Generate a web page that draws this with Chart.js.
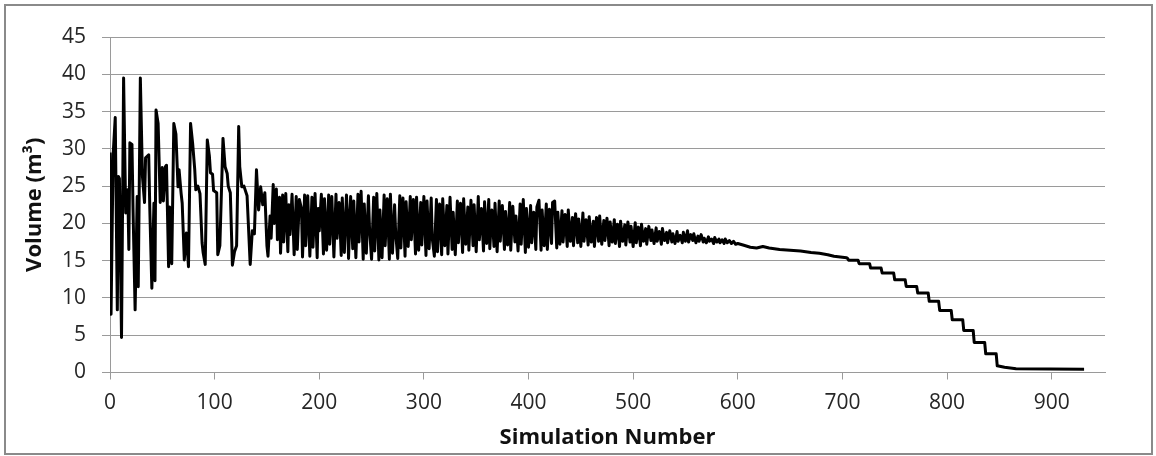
<!DOCTYPE html>
<html>
<head>
<meta charset="utf-8">
<script src="https://cdn.jsdelivr.net/npm/chart.js@4/dist/chart.umd.min.js"></script>
<style>
  html, body { margin: 0; padding: 0; background: #fff; }
  canvas { display: block; }
</style>
</head>
<body>
<canvas id="chart" width="1156" height="456"></canvas>
<script>
// Volume per simulation, as [simulation number, volume in m³] pairs.
const startup = [
  [0,29.5],[1,7.8],[3,29.2],[5,34.2],[7,8.4],[8,26.3],[9,26.0],[11,4.7],[13,39.5],[15,21.4],
  [17,24.5],[18,16.5],[19,30.8],[21,30.6],[22,22.0],[24,8.4],[26,23.6],[27,11.5],[29,39.5],[31,26.3],
  [33,22.8],[34,28.8],[37,29.2],[38,22.2],[40,11.3],[42,22.7],[43,12.3],[44,35.2],[46,33.4],[48,22.8],
  [50,27.5],[51,23.0],[53,27.6],[54,27.8],[56,14.2],[57,22.2],[59,14.6],[61,33.4],[63,32.0],[65,24.9],
  [66,27.2],[68,24.0],[69,22.7],[71,15.1],[73,18.7],[75,14.2],[77,33.4],[79,30.7],[81,27.2],[82,24.5],
  [84,25.0],[86,24.0],[88,17.4],[89,16.1],[91,14.5],[93,31.2],[95,29.0],[96,26.8],[98,26.6],[99,24.4],
  [102,24.1],[103,15.8],[105,17.0],[108,31.4],[110,27.6],[112,26.7],[113,25.0],[115,24.1],[117,14.4],[119,16.2],
  [121,17.0],[123,33.0],[124,27.6],[126,24.9],[128,25.0],[131,23.7],[134,14.5],[136,19.0],[138,18.6],[140,27.2],
  [142,21.8],[144,24.9],[146,22.5],[148,24.1],[150,17.0],[151,15.6],[153,21.0],[154,18.0],[156,25.2],[157,20.0],
  [159,24.6],[160,17.8]
];

const wideBand = [
  [162,23.5],[163,16.0],[165,23.8],[166,17.5],[168,24.0],[170,16.2],[171,22.5],[172,18.5],[174,23.9],[176,15.8],
  [178,23.6],[179,16.5],[181,23.2],[183,22.0],[184,15.5],[186,23.8],[187,17.0],[189,23.7],[191,15.6],[193,23.5],
  [194,16.8],[196,24.0],[198,15.4],[199,22.0],[200,19.0],[202,23.9],[204,15.9],[205,23.3],[207,16.4],[209,23.8],
  [210,17.2],[212,23.6],[214,15.5],[216,23.9],[217,18.0],[219,22.8],[221,15.7],[222,23.4],[224,16.1],[226,23.8],
  [227,21.0],[228,15.3],[230,23.6],[232,16.6],[233,23.0],[235,15.4],[237,23.9],[238,17.5],[240,24.3],[242,15.2],
  [243,22.6],[245,16.0],[247,23.7],[248,19.5],[250,15.2],[252,23.5],[253,16.3],[255,24.0],[257,15.1],[258,21.8],
  [260,15.4],[262,23.8],[263,17.0],[265,23.3],[267,15.2],[268,23.9],[270,16.0],[272,22.5],[273,18.8],[275,15.3],
  [277,23.7],[278,16.7],[280,23.4],[282,15.6],[283,22.9],[285,16.9],[287,23.6],[288,17.8],[290,23.2],[292,15.9],
  [293,23.5],[295,16.4],[297,22.8],[298,17.1],[300,23.6]
];

const middleBand = [
  [302,15.7],[303,23.0],[305,16.6],[307,23.4],[308,18.0],[310,15.6],[312,23.2],[313,16.2],[315,22.6],[317,15.8],
  [318,23.3],[320,17.0],[322,22.4],[323,15.9],[325,23.5],[327,16.5],[328,21.5],[330,15.8],[332,23.0],[333,17.4],
  [335,22.7],[337,16.1],[338,23.3],[340,17.2],[342,22.2],[343,16.4],[345,23.1],[347,17.0],[348,22.5],[350,16.2],
  [352,23.6],[353,17.8],[355,22.0],[357,16.3],[358,22.9],[360,17.3],[362,23.2],[363,16.6],[365,21.8],[367,16.9],
  [368,22.7],[370,16.2],[372,23.0],[373,17.6],[375,22.4],[377,16.5],[378,21.6],[380,17.1],[382,22.8],[383,16.4],
  [385,22.3],[387,17.5],[388,21.0],[390,16.3],[392,22.6],[393,17.2],[395,23.2],[397,16.1],[398,22.0],[400,16.8],
  [402,22.4],[403,17.4],[405,21.5],[407,16.5],[408,22.2],[410,23.1],[412,16.4],[413,21.8],[415,17.0],[417,22.6],
  [418,16.5],[420,21.9],[422,17.3],[423,22.8],[425,23.0],[427,16.7],[428,21.5],[430,17.2]
];

const narrowingBand = [
  [432,21.7],[433,17.5],[435,21.2],[437,16.9],[438,21.8],[440,17.6],[442,20.8],[443,17.0],[445,21.3],[447,17.4],
  [448,20.6],[450,16.9],[452,21.4],[453,17.6],[455,20.5],[457,17.1],[458,20.9],[460,17.5],[462,20.3],[463,16.9],
  [465,20.8],[467,17.6],[468,21.0],[470,17.2],[472,20.4],[473,17.7],[475,20.7],[477,17.0],[478,20.2],[480,17.5],
  [482,20.5],[483,17.3],[485,19.9],[487,16.9],[488,20.3],[490,17.6],[492,19.8],[493,17.1],[495,20.2],[497,17.5],
  [498,19.6],[500,16.9],[502,20.1],[503,17.4],[505,19.5],[507,17.0],[508,19.9],[510,17.6],[512,19.3],[513,17.2],
  [515,19.6],[517,17.7],[518,19.1],[520,17.3],[522,19.4],[523,17.6],[525,18.9],[527,17.2],[528,19.3],[530,17.7],
  [532,18.8],[533,17.4],[535,19.0],[537,17.5],[538,18.6],[540,17.3],[542,18.9],[543,17.6],[545,18.4],[547,17.4],
  [548,18.8],[550,17.6],[552,19.0],[553,17.5],[555,18.5],[557,17.7],[558,18.6],[560,17.4],[562,18.3],[563,17.6],
  [565,18.5],[567,17.5],[568,18.0],[570,17.4],[572,18.2],[573,17.6],[575,17.9],[577,17.3],[578,18.1],[580,17.5],
  [582,17.9],[583,17.4],[585,17.8],[587,17.3],[588,17.9],[590,17.4],[592,17.7],[594,17.3],[596,17.6],[598,17.2],
  [600,17.3]
];

const settling = [
  [605,17.1],[612,16.8],[618,16.7],[624,16.9],[630,16.7],[640,16.5],[650,16.4],[660,16.3],[670,16.1],[678,16.0],
  [686,15.8],[692,15.6],[698,15.5],[704,15.4]
];

const drawdown = [
  [705,15.3],[706,15.05],[715,15.05],[716,14.6],[726,14.6],[727,14.0],[737,14.0],[738,13.35],[749,13.35],[750,12.45],
  [760,12.45],[761,11.55],[771,11.55],[772,10.67],[782,10.67],[783,9.54],[792,9.54],[793,8.33],[804,8.33],[805,7.08],
  [815,7.08],[816,5.65],[825,5.65],[826,4.03],[836,4.03],[837,2.51],[847,2.51],[848,0.9],[855,0.7],[866,0.5],
  [931,0.45]
];

const xTickValues = [0, 100, 200, 300, 400, 500, 600, 700, 800, 900];
const yTickValues = [0, 5, 10, 15, 20, 25, 30, 35, 40, 45];

const series = [...startup, ...wideBand, ...middleBand, ...narrowingBand, ...settling, ...drawdown]
  .map(([x, y]) => ({ x, y }));

const FONT = "'Open Sans', 'Liberation Sans', sans-serif";
const GRID = '#9a9a9a';
const TEXT = '#262626';

// Outer frame around the whole figure
const frame = {
  id: 'frame',
  beforeDraw(chart) {
    const ctx = chart.ctx;
    ctx.save();
    ctx.fillStyle = '#fff';
    ctx.fillRect(0, 0, chart.width, chart.height);
    ctx.strokeStyle = '#8a8a8a';
    ctx.lineWidth = 2;
    ctx.strokeRect(5, 5, 1147, 449);
    ctx.restore();
  }
};

new Chart(document.getElementById('chart'), {
  type: 'line',
  data: {
    datasets: [{
      data: series,
      borderColor: '#000',
      borderWidth: 3,
      pointRadius: 0,
      tension: 0,
      borderJoinStyle: 'round',
      fill: false
    }]
  },
  options: {
    responsive: false,
    animation: false,
    layout: { padding: { left: 0, right: 51, top: 37, bottom: 0 } },
    plugins: { legend: { display: false }, tooltip: { enabled: false } },
    scales: {
      x: {
        type: 'linear',
        min: 0,
        max: 951,
        afterBuildTicks(scale) { scale.ticks = xTickValues.map(v => ({ value: v })); },
        afterFit(scale) { scale.height = 83.5; },
        grid: { drawOnChartArea: false, drawTicks: true, tickLength: 7, color: GRID },
        border: { color: GRID, width: 1 },
        ticks: { font: { family: FONT, size: 21 }, color: TEXT, padding: 11, maxRotation: 0 },
        title: {
          display: true,
          text: 'Simulation Number',
          font: { family: FONT, size: 22, weight: 'bold' },
          color: '#111',
          padding: { top: 0, bottom: 5 }
        }
      },
      y: {
        min: 0,
        max: 45,
        afterBuildTicks(scale) { scale.ticks = yTickValues.map(v => ({ value: v })); },
        afterFit(scale) { scale.width = 110; },
        grid: { color: GRID, tickLength: 8 },
        border: { color: GRID, width: 1 },
        ticks: { font: { family: FONT, size: 21 }, color: TEXT, padding: 16 },
        title: {
          display: true,
          text: 'Volume (m³)',
          font: { family: FONT, size: 22, weight: 'bold' },
          color: '#111',
          padding: { top: 22, bottom: 0 }
        }
      }
    }
  },
  plugins: [frame]
});
</script>
</body>
</html>
